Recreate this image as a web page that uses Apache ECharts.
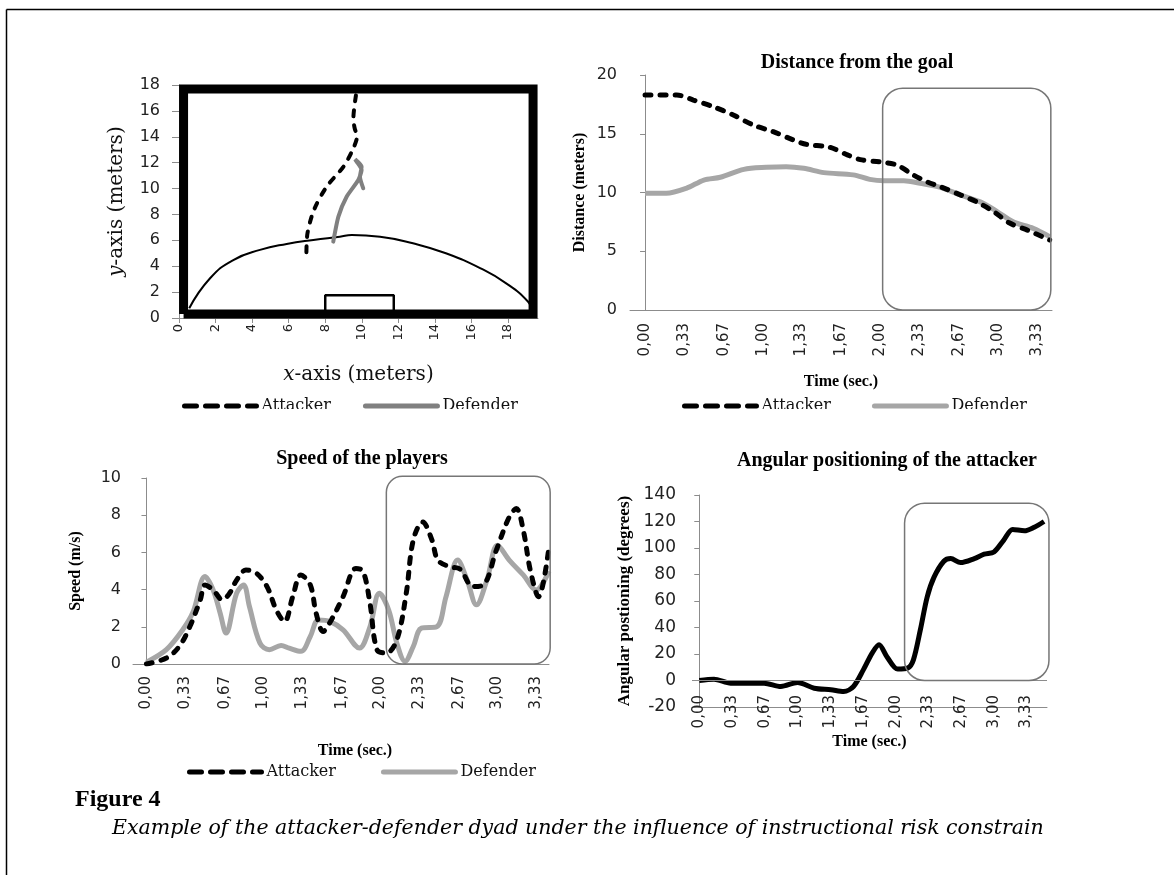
<!DOCTYPE html>
<html>
<head>
<meta charset="utf-8">
<title>Figure 4</title>
<script src="https://cdn.jsdelivr.net/npm/echarts@6/dist/echarts.min.js"></script>
<style>
  html, body { margin: 0; padding: 0; background: #fff; }
  #chart { width: 1174px; height: 875px; }
</style>
</head>
<body>
<div id="chart"></div>
<script>
// ---- pitch view (meters) ----
const pitchBorder = [[0.25, 0.3], [0.25, 17.7], [19.37, 17.7], [19.37, 0.3], [0.25, 0.3]]
const pitchArc = [[0.56, 0.75], [1.7, 3.07], [2.97, 4.48], [4.43, 5.26], [5.89, 5.72], [7.35, 6.03], [8.8, 6.28], [9.45, 6.41], [11.0, 6.28], [12.8, 5.77], [14.6, 5.0], [16.5, 3.84], [17.9, 2.68], [19.1, 1.26], [19.37, 0.5]]
const goalBox = [[8.0, 0.4], [8.0, 1.75], [11.75, 1.75], [11.75, 0.4]]
const pathAttacker = [[9.68, 17.2], [9.6, 16.4], [9.54, 15.4], [9.62, 14.6], [9.75, 14.1], [9.5, 13.0], [9.0, 11.7], [8.08, 10.15], [7.4, 8.4], [7.03, 6.55], [6.97, 5.0]]
const pathDefender = [[10.08, 10.02], [9.9, 10.92], [9.99, 11.69], [9.63, 12.26], [9.72, 12.08], [9.99, 11.44], [9.81, 10.66], [9.17, 9.37], [8.72, 7.83], [8.44, 5.9]]

// ---- time series: [time (s), value] ----
const timeTickLabels = ['0,00', '0,33', '0,67', '1,00', '1,33', '1,67', '2,00', '2,33', '2,67', '3,00', '3,33']

const distAttacker = [[0, 18.3], [0.27, 18.3], [0.41, 17.87], [0.58, 17.3], [0.75, 16.6], [0.92, 15.74], [1.09, 15.18], [1.26, 14.47], [1.37, 14.1], [1.57, 13.85], [1.72, 13.2], [1.83, 12.8], [2.0, 12.6], [2.14, 12.34], [2.28, 11.5], [2.4, 10.9], [2.51, 10.5], [2.68, 9.8], [2.82, 9.2], [2.96, 8.4], [3.1, 7.4], [3.25, 6.8], [3.44, 5.96]]
const distDefender = [[0, 9.93], [0.18, 9.93], [0.35, 10.35], [0.5, 11.06], [0.64, 11.3], [0.84, 11.97], [1.03, 12.14], [1.2, 12.2], [1.35, 12.06], [1.52, 11.69], [1.77, 11.5], [1.91, 11.12], [2.03, 11.0], [2.2, 11.0], [2.34, 10.78], [2.51, 10.44], [2.68, 9.8], [2.85, 9.2], [2.99, 8.4], [3.13, 7.5], [3.3, 6.95], [3.44, 6.24]]

const speedAttacker = [[0, 0], [0.17, 0.32], [0.28, 0.94], [0.37, 2.0], [0.46, 3.45], [0.5, 4.25], [0.57, 3.98], [0.65, 3.45], [0.71, 3.8], [0.77, 4.5], [0.85, 5.05], [0.94, 4.88], [1.03, 4.16], [1.11, 2.9], [1.18, 2.28], [1.25, 3.62], [1.32, 4.79], [1.4, 4.25], [1.45, 2.73], [1.51, 1.75], [1.58, 2.37], [1.68, 3.62], [1.79, 5.14], [1.85, 5.0], [1.91, 3.27], [1.97, 0.77], [2.05, 0.59], [2.14, 1.3], [2.22, 3.8], [2.28, 6.66], [2.36, 7.64], [2.44, 6.66], [2.49, 5.59], [2.59, 5.23], [2.68, 5.1], [2.79, 4.16], [2.88, 4.25], [2.99, 6.12], [3.1, 7.9], [3.16, 8.36], [3.22, 7.2], [3.28, 5.05], [3.35, 3.62], [3.44, 6.3]]
const speedDefender = [[0, 0.1], [0.17, 0.77], [0.31, 1.84], [0.4, 2.82], [0.5, 4.7], [0.57, 3.98], [0.63, 2.73], [0.68, 1.66], [0.77, 3.8], [0.83, 4.25], [0.88, 3.09], [0.97, 1.12], [1.05, 0.77], [1.15, 1.0], [1.22, 0.85], [1.32, 0.68], [1.4, 1.48], [1.47, 2.37], [1.57, 2.28], [1.68, 1.84], [1.82, 0.86], [1.91, 2.0], [1.99, 3.8], [2.07, 2.9], [2.14, 1.12], [2.21, 0.14], [2.28, 0.94], [2.35, 1.93], [2.48, 2.0], [2.56, 3.62], [2.66, 5.59], [2.74, 4.52], [2.82, 3.18], [2.91, 4.52], [3.0, 6.39], [3.1, 5.59], [3.22, 4.79], [3.33, 3.98], [3.44, 5.0]]

const angleAttacker = [[0, 0], [0.15, 1.0], [0.32, -2], [0.52, -2], [0.66, -2], [0.83, -4.5], [1.0, -1.5], [1.17, -5.8], [1.34, -7], [1.47, -8.3], [1.57, -4.5], [1.67, 8], [1.76, 20.7], [1.83, 27], [1.91, 18], [2.02, 8.6], [2.12, 9.3], [2.18, 15.6], [2.25, 38], [2.32, 63], [2.39, 78], [2.49, 90], [2.56, 92], [2.66, 89], [2.8, 92], [2.9, 95.3], [3.0, 97], [3.1, 106], [3.19, 114], [3.31, 113], [3.41, 115.7], [3.51, 120]]

// highlighted windows [t0, t1, v0, v1]
const distWindow = [2.02, 3.45, 0, 18.87]
const speedWindow = [2.05, 3.45, 0, 10.09]
const angleWindow = [2.09, 3.56, 0, 133.8]

const timeTicks = timeTickLabels.map(s => parseFloat(s.replace(',', '.')))

const tickFont = 'DejaVu Sans'
const serif = 'Liberation Serif'
const bookSerif = 'DejaVu Serif'
const axisGrey = '#8c8c8c'
const lightGrey = '#a6a6a6'

function timeLabel(v) {
  let best = 0
  timeTicks.forEach((t, i) => { if (Math.abs(t - v) < Math.abs(timeTicks[best] - v)) best = i })
  return timeTickLabels[best]
}

function timeAxis(gridIndex, min, max, nameGap, margin, extra) {
  return Object.assign({
    type: 'value',
    gridIndex: gridIndex,
    min: min,
    max: max,
    name: 'Time (sec.)',
    nameLocation: 'middle',
    nameGap: nameGap,
    nameTextStyle: { fontFamily: serif, fontWeight: 'bold', fontSize: 16, color: '#000' },
    axisLine: { show: true, onZero: false, lineStyle: { color: axisGrey, width: 1 } },
    axisTick: { show: false },
    splitLine: { show: false },
    axisLabel: {
      customValues: timeTicks,
      formatter: timeLabel,
      rotate: 90,
      margin: margin,
      fontFamily: tickFont,
      fontSize: 15,
      color: '#222'
    }
  }, extra || {})
}

function valueAxis(gridIndex, min, max, interval, name, nameGap, nameSize, labelMargin, labelSize) {
  return {
    type: 'value',
    gridIndex: gridIndex,
    min: min,
    max: max,
    interval: interval,
    name: name,
    nameLocation: 'middle',
    nameGap: nameGap,
    nameRotate: 90,
    nameTextStyle: { fontFamily: serif, fontWeight: 'bold', fontSize: nameSize, color: '#000' },
    axisLine: { show: true, lineStyle: { color: axisGrey, width: 1 } },
    axisTick: { show: true, length: 5, lineStyle: { color: axisGrey } },
    splitLine: { show: false },
    axisLabel: { margin: labelMargin, fontFamily: tickFont, fontSize: labelSize, color: '#222' }
  }
}

const attackerDash = { color: '#000', width: 5, type: [6, 9], cap: 'round' }

// legend icons are drawn as lines only: the centre symbol is made invisible
function legendAt(left, top, gap, defenderColor) {
  return {
    left: left,
    top: top,
    itemWidth: 72,
    itemHeight: 14,
    itemGap: gap,
    selectedMode: false,
    textStyle: { fontFamily: bookSerif, fontSize: 16, color: '#111' },
    data: [
      { name: 'Attacker', itemStyle: { opacity: 0 }, lineStyle: { color: '#000', width: 5, type: [12, 9], cap: 'round' } },
      { name: 'Defender', itemStyle: { opacity: 0 }, lineStyle: { color: defenderColor, width: 5, type: 'solid' } }
    ]
  }
}

const chart = echarts.init(document.getElementById('chart'), null, { renderer: 'canvas' })

const option = {
  animation: false,
  backgroundColor: '#fff',
  title: [
    { text: 'Distance from the goal', left: 852, top: 48, textAlign: 'center', textStyle: { fontFamily: serif, fontWeight: 'bold', fontSize: 20, color: '#000' } },
    { text: 'Speed of the players', left: 357, top: 444, textAlign: 'center', textStyle: { fontFamily: serif, fontWeight: 'bold', fontSize: 20, color: '#000' } },
    { text: 'Angular positioning of the attacker', left: 882, top: 446, textAlign: 'center', textStyle: { fontFamily: serif, fontWeight: 'bold', fontSize: 20, color: '#000' } }
  ],
  legend: [
    legendAt(177, 393, 32, '#808080'),
    legendAt(677, 393, 41, lightGrey),
    legendAt(182, 759, 45, lightGrey)
  ],
  grid: [
    { left: 179, top: 85, width: 359, height: 233 },
    { left: 630, top: 75, width: 422, height: 235 },
    { left: 133, top: 478, width: 416, height: 186 },
    { left: 692, top: 495, width: 355, height: 212 }
  ],
  xAxis: [
    {
      type: 'value', gridIndex: 0, min: 0, max: 19.64, interval: 2,
      name: '{i|x}-axis (meters)',
      nameLocation: 'middle', nameGap: 47,
      nameTextStyle: { fontFamily: bookSerif, fontSize: 20, color: '#111', rich: { i: { fontFamily: bookSerif, fontSize: 20, fontStyle: 'italic', color: '#111' } } },
      axisLine: { show: true, lineStyle: { color: axisGrey } },
      axisTick: { show: true, length: 5, lineStyle: { color: axisGrey } },
      splitLine: { show: false },
      axisLabel: { rotate: 90, margin: 6, fontFamily: tickFont, fontSize: 13, color: '#222', showMaxLabel: false, formatter: v => (v % 2 === 0 ? String(v) : '') }
    },
    timeAxis(1, -0.128, 3.46, 64, 13),
    timeAxis(2, -0.115, 3.44, 79, 12, { nameTextStyle: { fontFamily: serif, fontWeight: 'bold', fontSize: 16, color: '#000', padding: [0, 0, 0, 28] } }),
    timeAxis(3, -0.074, 3.54, 27, -12)
  ],
  yAxis: [
    {
      type: 'value', gridIndex: 0, min: 0, max: 18, interval: 2,
      name: '{i|y}-axis (meters)',
      nameLocation: 'middle', nameGap: 52, nameRotate: 90,
      nameTextStyle: { fontFamily: bookSerif, fontSize: 20, color: '#111', rich: { i: { fontFamily: bookSerif, fontSize: 20, fontStyle: 'italic', color: '#111' } } },
      axisLine: { show: true, lineStyle: { color: axisGrey } },
      axisTick: { show: true, length: 7, lineStyle: { color: axisGrey } },
      splitLine: { show: false },
      axisLabel: { margin: 19, fontFamily: tickFont, fontSize: 16, color: '#222' }
    },
    valueAxis(1, 0, 20, 5, 'Distance (meters)', 42, 16, 13, 16),
    valueAxis(2, 0, 10, 2, 'Speed (m/s)', 49, 16, 12, 16),
    valueAxis(3, -20, 140, 20, 'Angular postioning (degrees)', 59, 17, 16, 17)
  ],
  series: [
    { name: 'Pitch', type: 'line', xAxisIndex: 0, yAxisIndex: 0, data: pitchBorder, symbol: 'none', clip: false, lineStyle: { color: '#000', width: 9, join: 'miter' }, z: 2 },
    { name: 'Area', type: 'line', xAxisIndex: 0, yAxisIndex: 0, data: pitchArc, symbol: 'none', smooth: 0.5, lineStyle: { color: '#000', width: 2 }, z: 2 },
    { name: 'Goal', type: 'line', xAxisIndex: 0, yAxisIndex: 0, data: goalBox, symbol: 'none', lineStyle: { color: '#000', width: 2.5 }, z: 2 },
    { name: 'Defender', type: 'line', xAxisIndex: 0, yAxisIndex: 0, data: pathDefender, symbol: 'none', smooth: 0.2, lineStyle: { color: '#808080', width: 4, cap: 'round' }, z: 3 },
    { name: 'Attacker', type: 'line', xAxisIndex: 0, yAxisIndex: 0, data: pathAttacker, symbol: 'none', smooth: 0.3, lineStyle: { color: '#000', width: 4, type: [6, 9], cap: 'round' }, z: 3 },

    { name: 'Defender', type: 'line', xAxisIndex: 1, yAxisIndex: 1, data: distDefender, symbol: 'none', smooth: 0.3, lineStyle: { color: lightGrey, width: 5 } },
    { name: 'Attacker', type: 'line', xAxisIndex: 1, yAxisIndex: 1, data: distAttacker, symbol: 'none', smooth: 0.3, lineStyle: attackerDash },

    { name: 'Defender', type: 'line', xAxisIndex: 2, yAxisIndex: 2, data: speedDefender, symbol: 'none', smooth: 0.35, lineStyle: { color: lightGrey, width: 5 } },
    { name: 'Attacker', type: 'line', xAxisIndex: 2, yAxisIndex: 2, data: speedAttacker, symbol: 'none', smooth: 0.35, lineStyle: attackerDash },

    {
      name: 'Angle', type: 'line', xAxisIndex: 3, yAxisIndex: 3, data: angleAttacker, symbol: 'none', smooth: 0.3,
      lineStyle: { color: '#000', width: 5 },
      markLine: { silent: true, symbol: 'none', label: { show: false }, lineStyle: { color: axisGrey, width: 1, type: 'solid' }, data: [{ yAxis: 0 }] },
      z: 3
    }
  ],
  graphic: {
    elements: [
      { id: 'frameTop', type: 'line', shape: { x1: 6.5, y1: 9.5, x2: 1174, y2: 9.5 }, style: { stroke: '#000', lineWidth: 1.5 } },
      { id: 'frameLeft', type: 'line', shape: { x1: 6.5, y1: 9.5, x2: 6.5, y2: 875 }, style: { stroke: '#000', lineWidth: 1.5 } },
      { id: 'maskTop', type: 'rect', shape: { x: 170, y: 409, width: 890, height: 10 }, style: { fill: '#fff' }, z: 100 },
      { id: 'maskBottom', type: 'rect', shape: { x: 170, y: 777, width: 390, height: 9 }, style: { fill: '#fff' }, z: 100 },
      { id: 'figLabel', type: 'text', left: 75, top: 788, style: { text: 'Figure 4', font: 'bold 24px "Liberation Serif"', fill: '#000' } },
      { id: 'caption', type: 'text', left: 112, top: 819, style: { text: 'Example of the attacker-defender dyad under the influence of instructional risk constrain', font: 'italic 20.5px "DejaVu Serif"', fill: '#000' } }
    ]
  }
}

chart.setOption(option)

function roundBox(id, gi, win, r) {
  const p0 = chart.convertToPixel({ xAxisIndex: gi, yAxisIndex: gi }, [win[0], win[3]])
  const p1 = chart.convertToPixel({ xAxisIndex: gi, yAxisIndex: gi }, [win[1], win[2]])
  return {
    id: id, type: 'rect', z: 10,
    shape: { x: p0[0], y: p0[1], width: p1[0] - p0[0], height: p1[1] - p0[1], r: r },
    style: { fill: 'none', stroke: '#767676', lineWidth: 1.5 }
  }
}

chart.setOption({
  graphic: {
    elements: [
      roundBox('boxDist', 1, distWindow, 20),
      roundBox('boxSpeed', 2, speedWindow, 16),
      roundBox('boxAngle', 3, angleWindow, 20)
    ]
  }
})
</script>
</body>
</html>
